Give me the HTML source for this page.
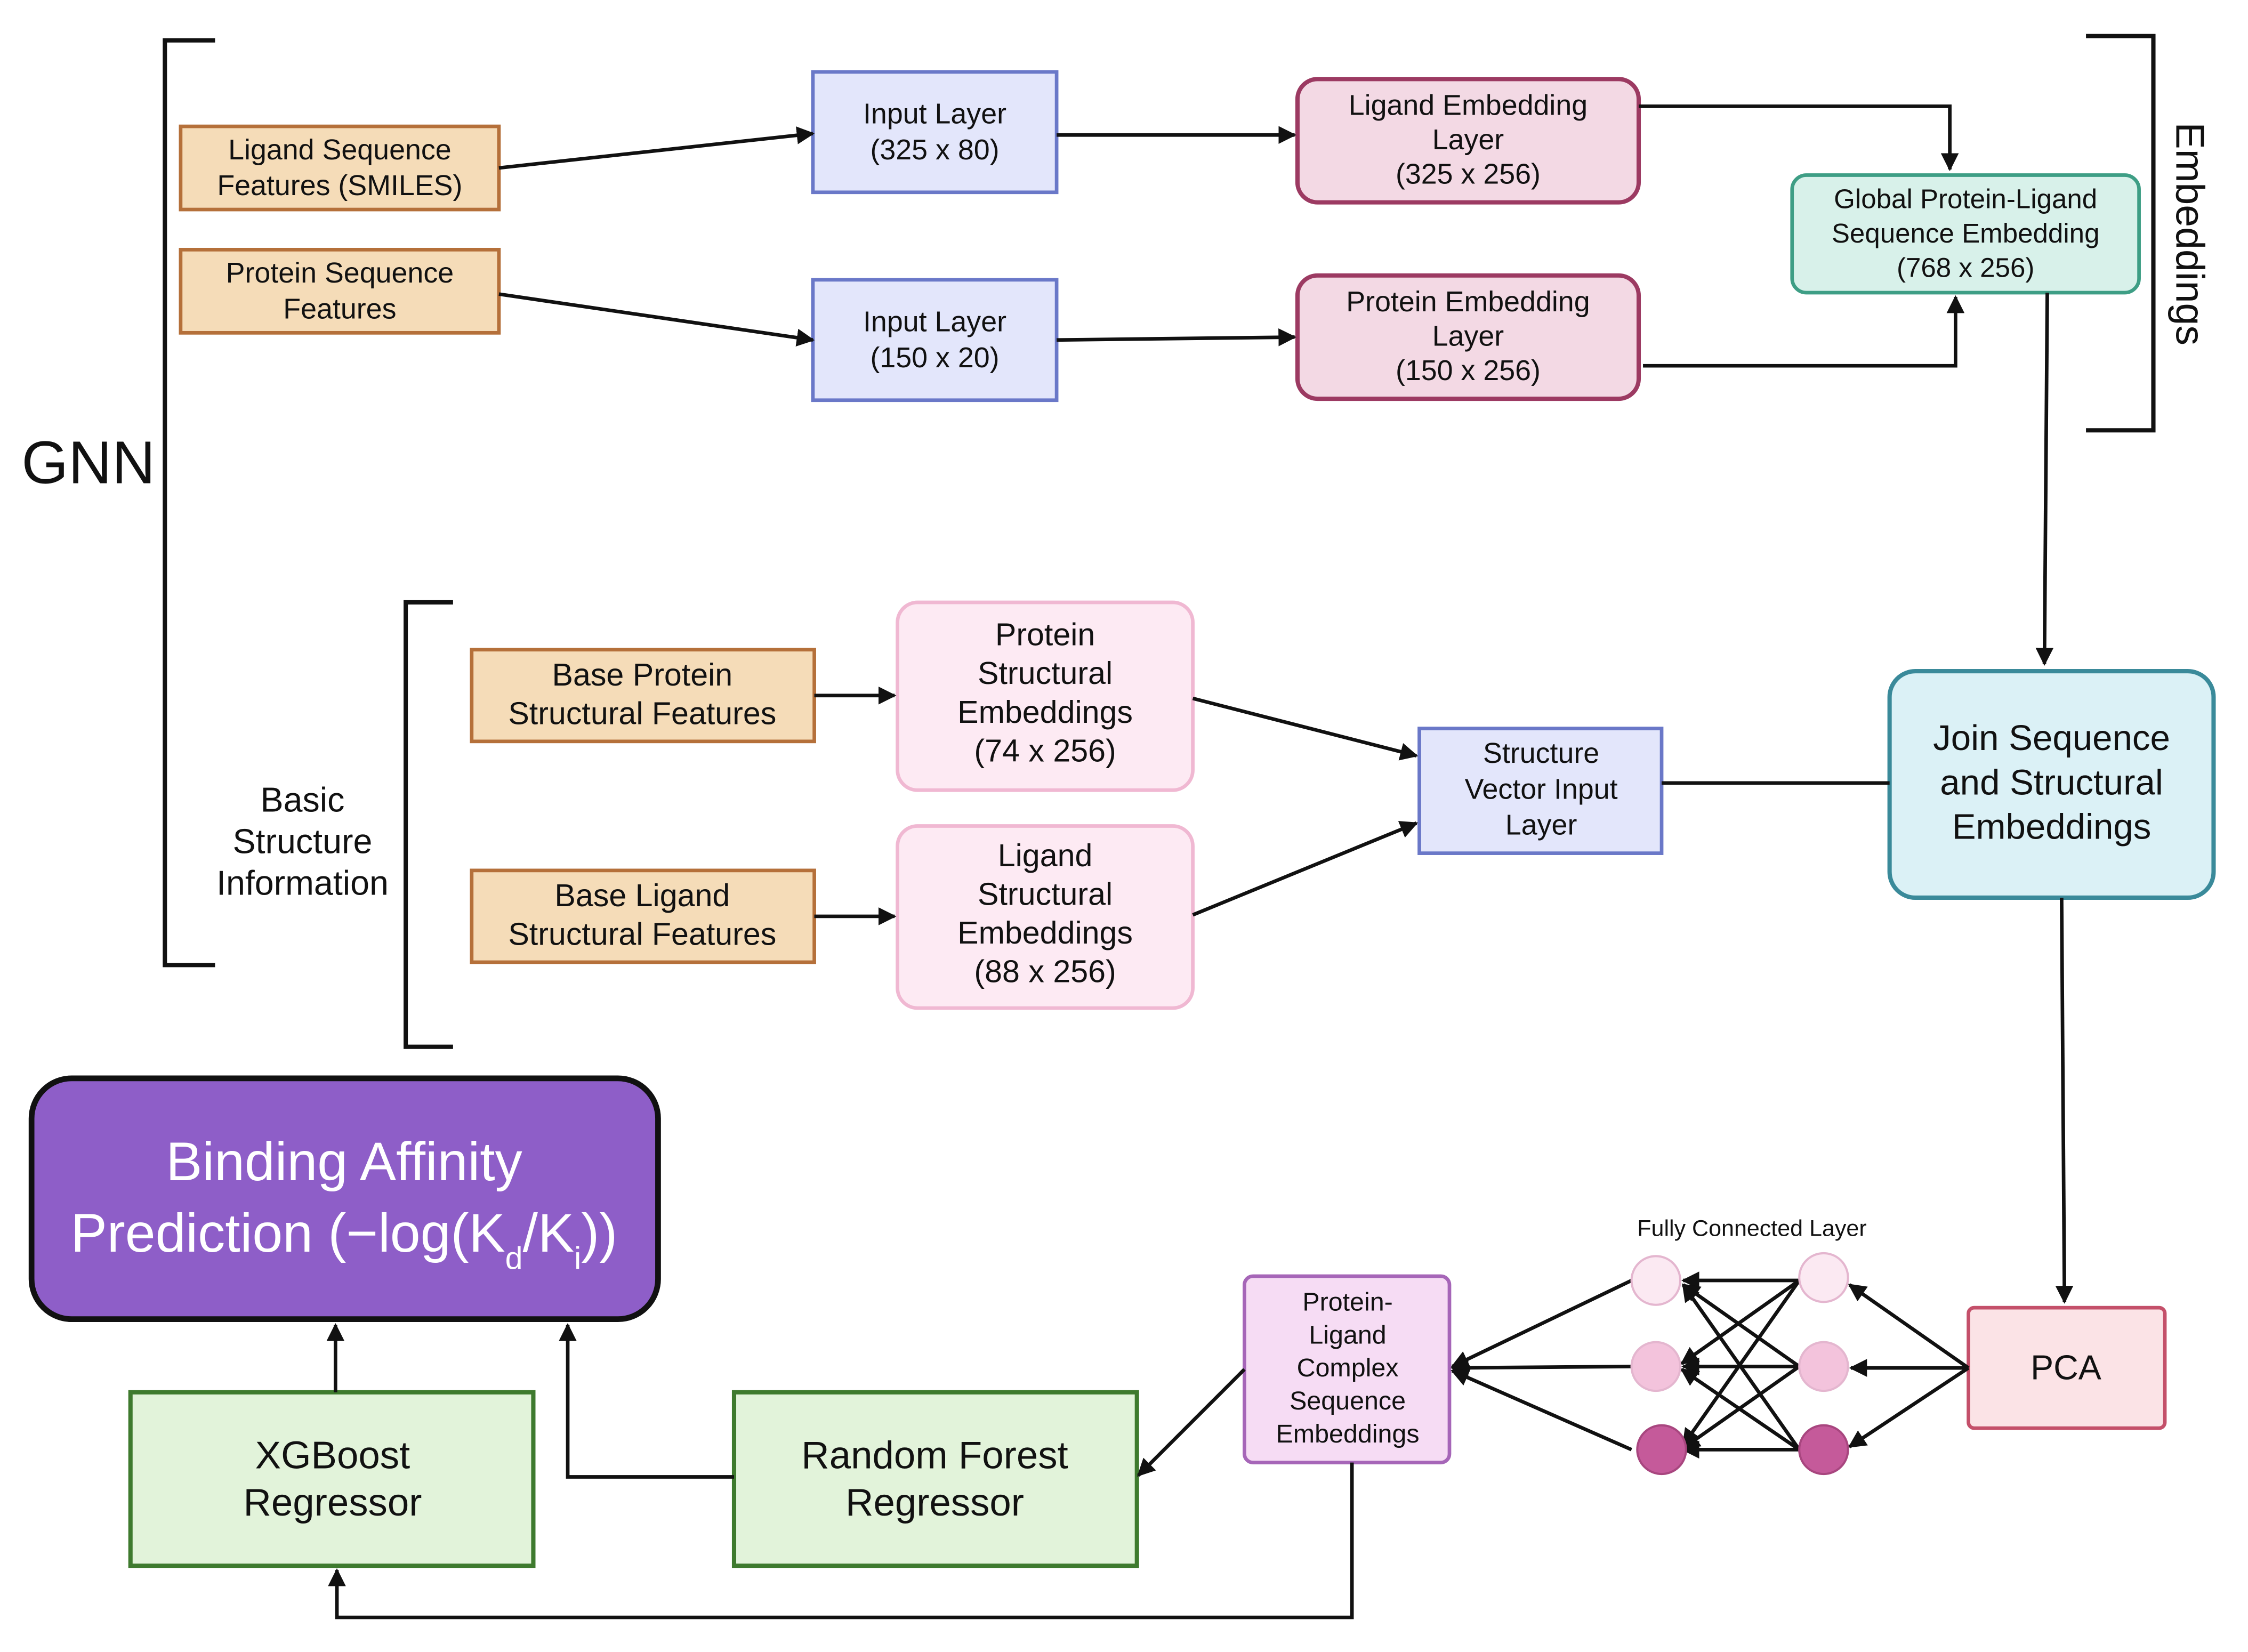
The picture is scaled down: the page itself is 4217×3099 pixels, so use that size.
<!DOCTYPE html>
<html><head><meta charset="utf-8"><style>
html,body{margin:0;padding:0;background:#fff;}
svg{display:block;}
text{font-family:"Liberation Sans",sans-serif;fill:#111;}
</style></head><body>
<svg width="4217" height="3099" viewBox="0 0 1568 1152" xmlns="http://www.w3.org/2000/svg">
<defs>
<marker id="a" viewBox="0 0 10 10" refX="9" refY="5" markerWidth="5" markerHeight="5" orient="auto-start-reverse"><path d="M0,0 L10,5 L0,10 z" fill="#111"/></marker>
</defs>
<rect width="1568" height="1152" fill="#fff"/>
<!-- brackets -->
<g fill="none" stroke="#111" stroke-width="3">
<path d="M150,28 H115 V673 H150"/>
<path d="M1455,25 H1502 V300 H1455"/>
<path d="M316,420 H283 V730 H316"/>
</g>
<text x="15" y="337" font-size="42">GNN</text>
<text transform="translate(1518,163) rotate(90)" font-size="28" text-anchor="middle">Embeddings</text>
<g font-size="24" text-anchor="middle"><text x="211" y="566">Basic</text><text x="211" y="595">Structure</text><text x="211" y="624">Information</text></g>

<!-- orange boxes -->
<g fill="#f5dcb8" stroke="#b5703a" stroke-width="2.5">
<rect x="126" y="88" width="222" height="58"/>
<rect x="126" y="174" width="222" height="58"/>
<rect x="329" y="453" width="239" height="64"/>
<rect x="329" y="607" width="239" height="64"/>
</g>
<g font-size="20" text-anchor="middle">
<text x="237" y="111">Ligand Sequence</text><text x="237" y="136">Features (SMILES)</text>
<text x="237" y="197">Protein Sequence</text><text x="237" y="222">Features</text>
</g>
<g font-size="22" text-anchor="middle">
<text x="448" y="478">Base Protein</text><text x="448" y="505">Structural Features</text>
<text x="448" y="632">Base Ligand</text><text x="448" y="659">Structural Features</text>
</g>
<!-- blue boxes -->
<g fill="#e3e6fb" stroke="#6a78c8" stroke-width="2.5">
<rect x="567" y="50" width="170" height="84"/>
<rect x="567" y="195" width="170" height="84"/>
<rect x="990" y="508" width="169" height="87"/>
</g>
<g font-size="20" text-anchor="middle">
<text x="652" y="86">Input Layer</text><text x="652" y="111">(325 x 80)</text>
<text x="652" y="231">Input Layer</text><text x="652" y="256">(150 x 20)</text>
<text x="1075" y="532">Structure</text><text x="1075" y="557">Vector Input</text><text x="1075" y="582">Layer</text>
</g>
<!-- embedding layers -->
<g fill="#f3d9e4" stroke="#9c3a62" stroke-width="3">
<rect x="905" y="55" width="238" height="86" rx="14"/>
<rect x="905" y="192" width="238" height="86" rx="14"/>
</g>
<g font-size="20" text-anchor="middle">
<text x="1024" y="80">Ligand Embedding</text><text x="1024" y="104">Layer</text><text x="1024" y="128">(325 x 256)</text>
<text x="1024" y="217">Protein Embedding</text><text x="1024" y="241">Layer</text><text x="1024" y="265">(150 x 256)</text>
</g>
<rect x="1250" y="122" width="242" height="82" rx="10" fill="#d8f1ea" stroke="#3e9e85" stroke-width="2.5"/>
<g font-size="19" text-anchor="middle">
<text x="1371" y="145">Global Protein-Ligand</text><text x="1371" y="169">Sequence Embedding</text><text x="1371" y="193">(768 x 256)</text>
</g>
<!-- structural embeddings -->
<g fill="#fdeaf3" stroke="#f0b8d2" stroke-width="2.5">
<rect x="626" y="420" width="206" height="131" rx="14"/>
<rect x="626" y="576" width="206" height="127" rx="14"/>
</g>
<g font-size="22" text-anchor="middle">
<text x="729" y="450">Protein</text><text x="729" y="477">Structural</text><text x="729" y="504">Embeddings</text><text x="729" y="531">(74 x 256)</text>
<text x="729" y="604">Ligand</text><text x="729" y="631">Structural</text><text x="729" y="658">Embeddings</text><text x="729" y="685">(88 x 256)</text>
</g>
<rect x="1318" y="468" width="226" height="158" rx="18" fill="#dbf1f6" stroke="#3a8a9a" stroke-width="3"/>
<g font-size="25" text-anchor="middle">
<text x="1431" y="523">Join Sequence</text><text x="1431" y="554">and Structural</text><text x="1431" y="585">Embeddings</text>
</g>
<rect x="1373" y="912" width="137" height="84" rx="4" fill="#fbe3e6" stroke="#c4506a" stroke-width="2.5"/>
<text x="1441" y="962" font-size="24" text-anchor="middle">PCA</text>
<rect x="868" y="890" width="143" height="130" rx="6" fill="#f6dcf4" stroke="#a666b8" stroke-width="2.5"/>
<g font-size="18" text-anchor="middle">
<text x="940" y="914">Protein-</text><text x="940" y="937">Ligand</text><text x="940" y="960">Complex</text><text x="940" y="983">Sequence</text><text x="940" y="1006">Embeddings</text>
</g>
<g fill="#e2f3da" stroke="#3e7a2e" stroke-width="3">
<rect x="512" y="971" width="281" height="121"/>
<rect x="91" y="971" width="281" height="121"/>
</g>
<g font-size="27" text-anchor="middle">
<text x="652" y="1024">Random Forest</text><text x="652" y="1057">Regressor</text>
<text x="232" y="1024">XGBoost</text><text x="232" y="1057">Regressor</text>
</g>
<rect x="22" y="752" width="437" height="168" rx="28" fill="#8e5ec8" stroke="#111" stroke-width="4"/>
<g font-size="38" text-anchor="middle" style="fill:#fff">
<text x="240" y="823" style="fill:#fff">Binding Affinity</text>
<text x="240" y="873" style="fill:#fff">Prediction (−log(K<tspan font-size="22" dy="12" style="fill:#fff">d</tspan><tspan dy="-12" style="fill:#fff">/K</tspan><tspan font-size="22" dy="12" style="fill:#fff">i</tspan><tspan dy="-12" style="fill:#fff">))</tspan></text>
</g>
<text x="1222" y="862" font-size="16" text-anchor="middle">Fully Connected Layer</text>

<!-- arrows -->
<g fill="none" stroke="#111" stroke-width="2.5" marker-end="url(#a)">
<path d="M348,117 L567,93"/>
<path d="M348,205 L567,237"/>
<path d="M737,94 L903,94"/>
<path d="M737,237 L903,235"/>
<path d="M1143,74 H1360 V118"/>
<path d="M1146,255 H1364 V207"/>
<path d="M1428,204 L1426,463"/>
<path d="M568,485 L624,485"/>
<path d="M568,639 L624,639"/>
<path d="M832,487 L988,527"/>
<path d="M832,638 L988,574"/>
<path d="M1438,626 L1440,908"/>
<path d="M1373,954 L1290,896"/>
<path d="M1373,954 L1291,954"/>
<path d="M1373,954 L1290,1009"/>
<path d="M868,955 L794,1029"/>
<path d="M943,1020 V1128 H235 V1095"/>
<path d="M512,1030 H396 V924"/>
<path d="M234,971 V924"/>
</g>
<path d="M1159,546 H1318" stroke="#111" stroke-width="2.5"/>
<!-- fully connected -->
<g fill="none" stroke="#111" stroke-width="2.5" marker-end="url(#a)">
<path d="M1255,893 L1174,893"/><path d="M1255,893 L1173,951"/><path d="M1255,893 L1174,1008"/>
<path d="M1255,953 L1174,896"/><path d="M1255,953 L1174,953"/><path d="M1255,953 L1174,1010"/>
<path d="M1255,1011 L1174,896"/><path d="M1255,1011 L1173,955"/><path d="M1255,1011 L1174,1011"/>
<path d="M1138,893 L1013,953"/><path d="M1138,953 L1013,954"/><path d="M1138,1011 L1013,956"/>
</g>
<g stroke="#e4b6cf" stroke-width="1.5">
<circle cx="1155" cy="893" r="17" fill="#fbe9f2"/><circle cx="1272" cy="891" r="17" fill="#fbe9f2"/>
<circle cx="1155" cy="953" r="17" fill="#f3c3dc"/><circle cx="1272" cy="953" r="17" fill="#f3c3dc"/>
<circle cx="1159" cy="1011" r="17" fill="#c55a9a" stroke="#a8467f"/><circle cx="1272" cy="1011" r="17" fill="#c55a9a" stroke="#a8467f"/>
</g>
</svg>
</body></html>
